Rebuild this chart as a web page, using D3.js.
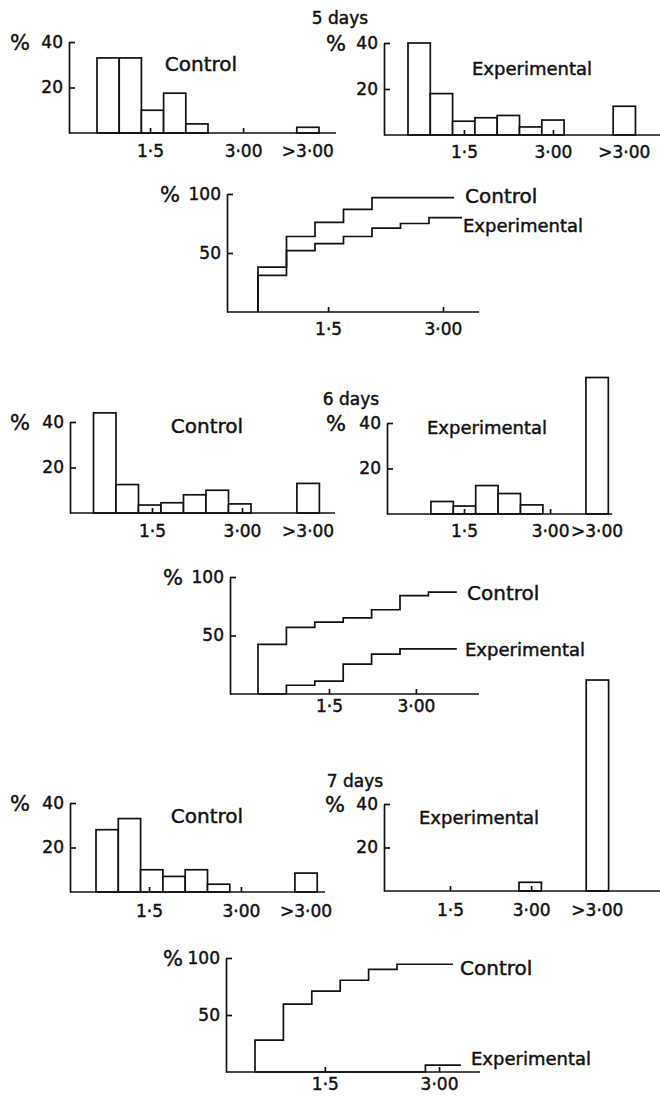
<!DOCTYPE html>
<html>
<head>
<meta charset="utf-8">
<script src="https://cdn.jsdelivr.net/npm/d3@7"></script>
<style>
  html, body { margin: 0; padding: 0; background: #fff; }
  svg { display: block; }
  text { font-family: "DejaVu Sans", sans-serif; fill: #111; stroke: #111; stroke-width: 0.45px; }
</style>
</head>
<body>
<svg id="fig" width="660" height="1098"></svg>
<script>
// Percentage of animals per interval class (left-hand bins), and the ">3·00" class
const hist5Control      = [33, 33, 10, 17.5, 4];
const hist5Experimental = [40, 18, 6, 7.5, 8.5, 3.5, 6.5];
const hist6Control      = [44, 12.5, 3.5, 4.5, 8, 10, 4];
const hist6Experimental = [0, 5.5, 3.5, 12.5, 9, 4];
const hist7Control      = [28, 33, 10, 7, 10, 3.5];
const hist7Experimental = [0, 0, 0, 0, 0, 4];
const overflowControl      = [2.5, 13, 8.5];   // 5, 6, 7 days
const overflowExperimental = [12.5, 60, 97];

// Cumulative percentages, one value per interval class
const cum5Control      = [31, 64, 76, 87, 97];
const cum5Experimental = [38, 52, 58, 64, 71, 75, 80];
const cum6Control      = [42.5, 57, 61.5, 65, 72, 84, 87];
const cum6Experimental = [0, 7.5, 11, 25.5, 34, 38.5, 38.5];
const cum7Control      = [28, 59.5, 71, 80.5, 90, 94.5, 94.5];
const cum7Experimental = [0, 0, 0, 0, 0, 0, 6];

const xTickLabels = ["1·5", "3·00"];
const overflowLabel = ">3·00";
const histYTicks = [20, 40];
const cumYTicks = [50, 100];
const dayLabels = ["5 days", "6 days", "7 days"];
const groupNames = ["Control", "Experimental"];

const svg = d3.select("#fig");
const INK = "#111";
const SW = 1.7;

function xScale(L) {
  // x in interval-class units: class i spans [i, i+1]
  return d3.scaleLinear().domain([0, 1]).range([L.bin0, L.bin0 + L.bw]);
}

function drawXAxis(g, L, x) {
  g.append("line")
    .attr("x1", L.axisX).attr("x2", L.axisEnd)
    .attr("y1", L.baseY).attr("y2", L.baseY)
    .attr("stroke", INK).attr("stroke-width", SW);
  const ax = d3.axisBottom(x)
    .tickValues(L.ticks)
    .tickSize(-5).tickSizeOuter(0).tickPadding(L.labelPad)
    .tickFormat((d, i) => xTickLabels[i]);
  const a = g.append("g").attr("transform", `translate(0,${L.baseY})`).call(ax);
  a.select(".domain").remove();
  a.selectAll(".tick line").attr("stroke", INK).attr("stroke-width", SW);
  a.selectAll(".tick text").attr("font-size", 17).attr("font-family", "DejaVu Sans").attr("fill", INK);
}

function drawYAxis(g, L, y, ticks) {
  const ax = d3.axisLeft(y)
    .tickValues(ticks)
    .tickSize(-6).tickSizeOuter(0).tickPadding(6)
    .tickFormat(d3.format("d"));
  const a = g.append("g").attr("transform", `translate(${L.axisX},0)`).call(ax);
  a.select(".domain").attr("stroke", INK).attr("stroke-width", SW);
  a.selectAll(".tick line").attr("stroke", INK).attr("stroke-width", SW);
  a.selectAll(".tick text").attr("font-size", 17).attr("font-family", "DejaVu Sans").attr("fill", INK);
  g.append("text")
    .attr("x", L.pctX).attr("y", L.topY).attr("dy", "0.36em")
    .attr("text-anchor", "middle").attr("font-size", 21)
    .text("%");
}

function histogram(values, overflow, title, L) {
  const g = svg.append("g");
  const x = xScale(L);
  const y = d3.scaleLinear().domain([0, 40]).range([L.baseY, L.topY]);

  const bars = values.map((v, i) => ({ pos: i, v })).filter(d => d.v > 0);
  bars.push({ pos: L.overSlot, v: overflow });

  g.selectAll("rect").data(bars).join("rect")
    .attr("x", d => x(d.pos))
    .attr("width", d => x(d.pos + 1) - x(d.pos))
    .attr("y", d => y(d.v))
    .attr("height", d => y(0) - y(d.v))
    .attr("fill", "#fff").attr("stroke", INK).attr("stroke-width", SW);

  drawXAxis(g, L, x);
  drawYAxis(g, L, y, histYTicks);

  g.append("text")
    .attr("x", x(L.overSlot + 0.5)).attr("y", L.baseY + L.labelPad + 12)
    .attr("text-anchor", "middle").attr("font-size", 17)
    .text(overflowLabel);

  g.append("text")
    .attr("x", L.titleX).attr("y", L.titleY)
    .attr("text-anchor", "middle").attr("font-size", L.titleSize)
    .text(title);
}

function cumulative(ctrl, expt, L) {
  const g = svg.append("g");
  const x = xScale(L);
  const y = d3.scaleLinear().domain([0, 100]).range([L.baseY, L.topY]);
  const line = d3.line().x(d => x(d[0])).y(d => y(d[1])).curve(d3.curveStepAfter);

  const pts = (vals, end) => [[0, 0], ...vals.map((v, i) => [i, v]), [end, vals[vals.length - 1]]];

  drawXAxis(g, L, x);
  drawYAxis(g, L, y, cumYTicks);

  [[ctrl, L.ctrlEnd], [expt, L.expEnd]].forEach(([vals, end]) => {
    g.append("path")
      .attr("d", line(pts(vals, end)))
      .attr("fill", "none").attr("stroke", INK).attr("stroke-width", SW);
  });

  g.append("text").attr("x", L.ctrlLabel[0]).attr("y", L.ctrlLabel[1])
    .attr("font-size", 20).text(groupNames[0]);
  g.append("text").attr("x", L.expLabel[0]).attr("y", L.expLabel[1])
    .attr("font-size", 18).text(groupNames[1]);
}

// Day headings
[[340, 24], [351, 405], [355, 787]].forEach(([cx, by], i) => {
  svg.append("text").attr("x", cx).attr("y", by)
    .attr("text-anchor", "middle").attr("font-size", 17)
    .text(dayLabels[i]);
});

// 5 days
histogram(hist5Control, overflowControl[0], groupNames[0],
  { axisX: 69, axisEnd: 336, baseY: 133, topY: 42, bin0: 97, bw: 22.2, overSlot: 9,
    ticks: [2.39, 6.58], labelPad: 12, titleX: 201, titleY: 71, titleSize: 20, pctX: 20 });
histogram(hist5Experimental, overflowExperimental[0], groupNames[1],
  { axisX: 384, axisEnd: 660, baseY: 135, topY: 43, bin0: 408, bw: 22.3, overSlot: 9.2,
    ticks: [2.51, 6.5], labelPad: 11, titleX: 532, titleY: 75, titleSize: 18, pctX: 336 });
cumulative(cum5Control, cum5Experimental,
  { axisX: 227, axisEnd: 479, baseY: 312, topY: 194, bin0: 258, bw: 28.5,
    ticks: [2.46, 6.49], labelPad: 11, pctX: 170, ctrlEnd: 6.88, expEnd: 7.16,
    ctrlLabel: [465, 203], expLabel: [463, 232] });

// 6 days
histogram(hist6Control, overflowControl[1], groupNames[0],
  { axisX: 70, axisEnd: 335, baseY: 513, topY: 422, bin0: 93.5, bw: 22.5, overSlot: 9.04,
    ticks: [2.6, 6.6], labelPad: 12, titleX: 207, titleY: 433, titleSize: 20, pctX: 20 });
histogram(hist6Experimental, overflowExperimental[1], groupNames[1],
  { axisX: 387, axisEnd: 612, baseY: 514, topY: 423, bin0: 408.5, bw: 22.4, overSlot: 7.92,
    ticks: [2.48, 6.32], labelPad: 11, titleX: 487, titleY: 434, titleSize: 18, pctX: 336 });
cumulative(cum6Control, cum6Experimental,
  { axisX: 230, axisEnd: 479, baseY: 694, topY: 577, bin0: 258, bw: 28.4,
    ticks: [2.5, 5.56], labelPad: 6, pctX: 173, ctrlEnd: 7.0, expEnd: 7.0,
    ctrlLabel: [467, 600], expLabel: [465, 656] });

// 7 days
histogram(hist7Control, overflowControl[2], groupNames[0],
  { axisX: 70, axisEnd: 325, baseY: 892, topY: 803, bin0: 96, bw: 22.3, overSlot: 8.92,
    ticks: [2.38, 6.5], labelPad: 13, titleX: 207, titleY: 823, titleSize: 20, pctX: 20 });
histogram(hist7Experimental, overflowExperimental[2], groupNames[1],
  { axisX: 384, axisEnd: 660, baseY: 891, topY: 804, bin0: 407, bw: 22.4, overSlot: 8.0,
    ticks: [1.92, 5.54], labelPad: 13, titleX: 479, titleY: 824, titleSize: 18, pctX: 335 });
cumulative(cum7Control, cum7Experimental,
  { axisX: 226, axisEnd: 480, baseY: 1072, topY: 958, bin0: 255, bw: 28.4,
    ticks: [2.46, 6.48], labelPad: 6, pctX: 173, ctrlEnd: 6.97, expEnd: 7.25,
    ctrlLabel: [460, 975], expLabel: [471, 1065] });
</script>
</body>
</html>
